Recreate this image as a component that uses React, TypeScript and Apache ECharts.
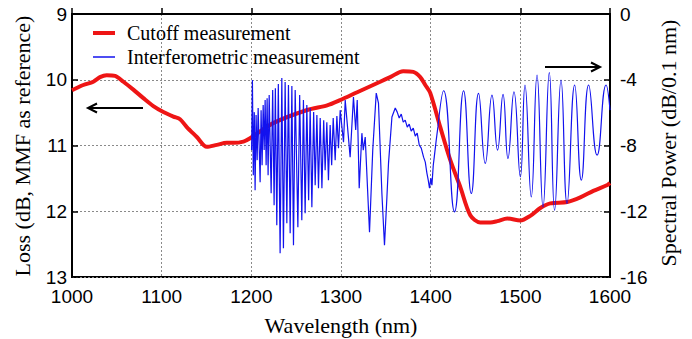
import React, { useEffect, useRef } from "react";
import * as echarts from "echarts";

// Cutoff measurement (left axis, Loss in dB)
const cutoffWavelength = [
  1000, 1012.6, 1023.8, 1031.2, 1038.7, 1048, 1057.3, 1068.4, 1079.6, 1090.7,
  1101.9, 1113.1, 1120.5, 1128.0, 1139.2, 1150.3, 1161.5, 1172.6, 1180.0, 1191.2,
  1198.6, 1224.3, 1262.3, 1284.6, 1299.1, 1318.1, 1343.7, 1354.9, 1369.4, 1380.6,
  1388.4, 1394.0, 1399.5, 1410.7, 1421.8, 1433.0, 1444.2, 1455.3, 1466.5, 1474.3,
  1485.5, 1500.0, 1511.1, 1522.3, 1533.4, 1552.4, 1566.9, 1581.4, 1597.1, 1600,
];
const cutoffLoss = [
  10.16, 10.08, 10.03, 9.96, 9.93, 9.94, 10.03, 10.15, 10.28, 10.4,
  10.49, 10.56, 10.6, 10.72, 10.87, 11.02, 10.99, 10.96, 10.96, 10.94,
  10.89, 10.66, 10.46, 10.39, 10.31, 10.19, 10.03, 9.96, 9.87, 9.88,
  9.96, 10.08, 10.2, 10.72, 11.22, 11.63, 12.06, 12.17, 12.17, 12.15,
  12.11, 12.14, 12.07, 11.95, 11.88, 11.86, 11.79, 11.69, 11.6, 11.57,
];

// Interferometric measurement (right axis, dB/0.1 nm), 1200-1408 nm part
const interfWavelengthA = [
  1200.3, 1201.2, 1202.2, 1203.3, 1204.2, 1205.3, 1206.5, 1207.6, 1209.8, 1210.9,
  1212.0, 1213.2, 1214.3, 1215.4, 1216.5, 1217.6, 1218.7, 1219.9, 1222.1, 1223.8,
  1225.4, 1226.8, 1228.4, 1230.1, 1232.1, 1234.0, 1235.8, 1237.7, 1239.6, 1241.4,
  1243.3, 1245.2, 1247.0, 1248.9, 1251.9, 1253.9, 1256.3, 1258.1, 1260.0, 1261.9,
  1263.9, 1265.6, 1267.5, 1269.5, 1271.2, 1273.1, 1274.9, 1276.8, 1278.7, 1280.7,
  1282.3, 1284.2, 1286.0, 1287.9, 1289.6, 1291.3, 1293.5, 1295.4, 1297.2, 1299.1,
  1302.8, 1304.7, 1310.2, 1313.9, 1316.4, 1318.1, 1320.3, 1323.3, 1324.8, 1327.0,
  1331.8, 1335.4, 1339.3, 1341.8, 1345.6, 1348.5, 1351.2, 1353.0, 1356.8, 1360.5,
  1362.7, 1364.9, 1367.2, 1369.4, 1371.6, 1373.9, 1376.1, 1378.3, 1380.6, 1382.8,
  1385.0, 1387.3, 1389.5, 1392.1, 1394.0, 1395.8, 1397.3, 1398.7, 1400.1, 1401.4,
  1402.9, 1404.0, 1406.2, 1408.1,
];
const interfPowerA = [
  -8.28, -4.02, -9.81, -5.97, -10.72, -6.15, -8.89, -5.72, -10.23, -5.85,
  -9.2, -5.54, -8.28, -5.24, -9.2, -5.12, -9.81, -4.93, -10.9, -4.63,
  -11.63, -4.51, -12.85, -4.26, -14.56, -3.9, -14.25, -4.14, -12.73, -4.32,
  -13.34, -4.38, -14.07, -4.63, -12.97, -4.93, -12.55, -5.24, -12.12, -5.54,
  -11.33, -5.72, -11.75, -5.97, -10.41, -6.15, -10.6, -6.33, -10.6, -6.46,
  -9.5, -6.58, -10.11, -6.76, -9.2, -6.33, -8.89, -6.21, -8.16, -5.85,
  -7.8, -5.24, -8.71, -5.05, -7.06, -5.24, -10.6, -7.25, -8.28, -7.49,
  -13.28, -8.28, -4.81, -5.42, -10.9, -14.07, -11.15, -9.07, -6.27, -5.72,
  -5.97, -6.33, -6.09, -6.58, -6.46, -6.88, -6.7, -7.13, -6.94, -7.43,
  -7.25, -7.98, -8.16, -8.71, -9.01, -9.68, -10.11, -10.6, -9.99, -10.41,
  -9.2, -8.71, -7.67, -6.86,
];

// Interferometric measurement, 1408-1600 nm part (regular fringes)
const interfWavelengthB = [
  1408.1, 1414.4, 1426.6, 1436.7, 1445.3, 1453.4, 1460.9, 1468.4, 1474.6, 1480.7,
  1486.2, 1492.9, 1500.0, 1505.2, 1512.2, 1518.6, 1525.3, 1532.3, 1538.2, 1545.4,
  1552.1, 1560.6, 1568.0, 1576.2, 1585.6, 1595.6, 1600,
];
const interfPowerB = [
  -6.86, -4.67, -12.04, -4.67, -10.92, -4.83, -9.09, -4.93, -8.28, -4.89,
  -8.79, -4.73, -9.91, -4.32, -11.13, -3.71, -11.74, -3.57, -11.94, -4.02,
  -11.53, -4.32, -10.11, -4.32, -8.59, -4.32, -5.85,
];

const seriesNames = ["Cutoff measurement", "Interferometric measurement"];
const axisTitles = ["Wavelength (nm)", "Loss (dB, MMF as reference)", "Spectral Power (dB/0.1 nm)"];
const RED = "#ee1515";
const BLUE = "#1212ee";
const SERIF = "'Liberation Serif', 'DejaVu Serif', 'Times New Roman', Times, serif";
const SANS = "'Liberation Sans', Arial, Helvetica, sans-serif";

const zip = (xs: number[], ys: number[]) => xs.map((x, i) => [x, ys[i]]);

export default function App() {
  const ref = useRef<HTMLDivElement>(null);
  useEffect(() => {
    const chart = echarts.init(ref.current!, null, { renderer: "svg" });
    const labelFont = { fontFamily: SANS, fontSize: 19, color: "#000" };
    const dotted = { show: true, lineStyle: { color: "#8a8a8a", type: [2, 2] as any, width: 1 } };
    const titleStyle = (text: string) => ({
      text, font: `22px ${SERIF}`, fill: "#000", align: "center", verticalAlign: "middle",
    });
    chart.setOption({
      animation: false,
      backgroundColor: "#fff",
      grid: {
        left: 72, right: 82, top: 14, bottom: 62,
        show: true, borderColor: "#000", borderWidth: 2, backgroundColor: "transparent",
      },
      xAxis: {
        type: "value",
        min: 1000, max: 1600, interval: 100,
        axisLine: { lineStyle: { color: "#000", width: 2 } },
        axisTick: { inside: true, length: 6, lineStyle: { color: "#000", width: 1.5 } },
        axisLabel: { ...labelFont, margin: 10, formatter: (v: number) => String(v) },
        splitLine: dotted,
      },
      yAxis: [
        {
          type: "value",
          min: 9, max: 13, interval: 1, inverse: true,
          axisLine: { show: true, lineStyle: { color: "#000", width: 2 } },
          axisTick: { show: true, inside: true, length: 6, lineStyle: { color: "#000", width: 1.5 } },
          axisLabel: { ...labelFont, margin: 5, formatter: (v: number) => String(v) },
          splitLine: dotted,
        },
        {
          type: "value",
          position: "right",
          min: -16, max: 0, interval: 4,
          axisLine: { show: true, lineStyle: { color: "#000", width: 2 } },
          axisTick: { show: true, inside: true, length: 6, lineStyle: { color: "#000", width: 1.5 } },
          axisLabel: { ...labelFont, margin: 10, formatter: (v: number) => String(v) },
          splitLine: { show: false },
        },
      ],
      series: [
        {
          name: seriesNames[0],
          type: "line",
          yAxisIndex: 0,
          data: zip(cutoffWavelength, cutoffLoss),
          symbol: "none",
          smooth: 0.3,
          lineStyle: { color: RED, width: 4 },
          itemStyle: { color: RED },
          z: 2,
        },
        {
          name: seriesNames[1],
          type: "line",
          yAxisIndex: 1,
          data: zip(interfWavelengthA, interfPowerA),
          symbol: "none",
          lineStyle: { color: BLUE, width: 1.2 },
          itemStyle: { color: BLUE },
          z: 3,
        },
        {
          name: seriesNames[1],
          type: "line",
          yAxisIndex: 1,
          data: zip(interfWavelengthB, interfPowerB),
          symbol: "none",
          smooth: 0.5,
          lineStyle: { color: BLUE, width: 1.2 },
          itemStyle: { color: BLUE },
          z: 3,
        },
      ],
      graphic: [
        // axis titles
        { type: "text", x: 341, y: 325, style: titleStyle(axisTitles[0]), z: 10 },
        { type: "text", x: 22, y: 146, rotation: Math.PI / 2, style: titleStyle(axisTitles[1]), z: 10 },
        { type: "text", x: 668, y: 143, rotation: Math.PI / 2, style: titleStyle(axisTitles[2]), z: 10 },
        // legend
        { type: "line", shape: { x1: 93, y1: 33, x2: 115, y2: 33 }, style: { stroke: RED, lineWidth: 4 }, z: 10 },
        { type: "text", x: 127, y: 33, style: { text: seriesNames[0], font: `20px ${SERIF}`, fill: "#000", verticalAlign: "middle" }, z: 10 },
        { type: "line", shape: { x1: 93, y1: 57, x2: 115, y2: 57 }, style: { stroke: BLUE, lineWidth: 1.5 }, z: 10 },
        { type: "text", x: 127, y: 57, style: { text: seriesNames[1], font: `20px ${SERIF}`, fill: "#000", verticalAlign: "middle" }, z: 10 },
        // arrows
        { type: "line", shape: { x1: 89, y1: 108, x2: 143, y2: 108 }, style: { stroke: "#000", lineWidth: 2 }, z: 10 },
        { type: "polyline", shape: { points: [[97, 103.5], [88, 108], [97, 112.5]] }, style: { stroke: "#000", lineWidth: 2, fill: "none" }, z: 10 },
        { type: "line", shape: { x1: 545, y1: 67, x2: 599, y2: 67 }, style: { stroke: "#000", lineWidth: 2 }, z: 10 },
        { type: "polyline", shape: { points: [[591, 62.5], [600, 67], [591, 71.5]] }, style: { stroke: "#000", lineWidth: 2, fill: "none" }, z: 10 },
      ],
    });
    return () => chart.dispose();
  }, []);
  return <div ref={ref} style={{ position: "fixed", left: 0, top: 0, width: 692, height: 339 }} />;
}
